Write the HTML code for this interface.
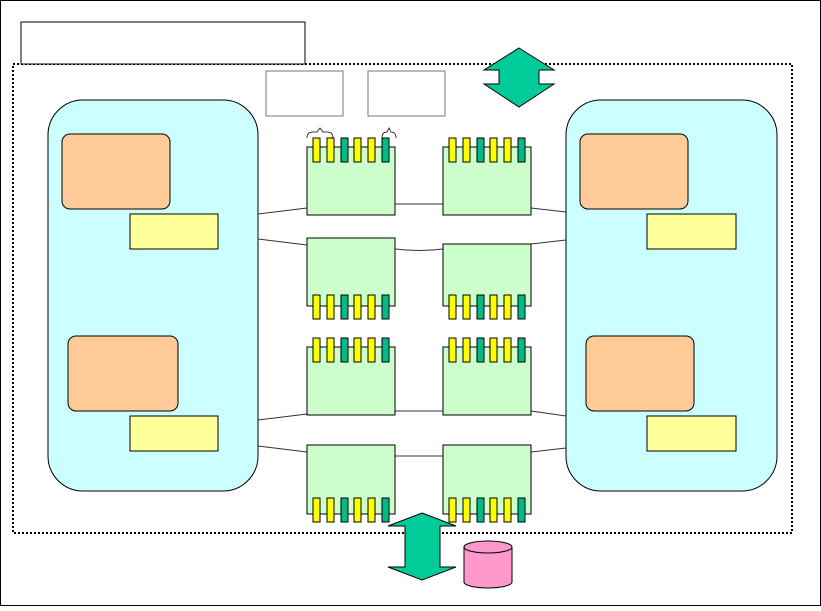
<!DOCTYPE html>
<html><head><meta charset="utf-8"><style>html,body{margin:0;padding:0;background:#fff}</style></head>
<body>
<svg width="821" height="606" viewBox="0 0 821 606" xmlns="http://www.w3.org/2000/svg">
<rect x="0.5" y="0.5" width="820" height="605" fill="#fff" stroke="#000"/>
<rect x="13" y="64" width="779" height="469" fill="none" stroke="#000" stroke-width="2" stroke-dasharray="2,2"/>
<rect x="21" y="22" width="284" height="42" fill="#fff" stroke="#000"/>
<rect x="266" y="71" width="77" height="45" fill="#fff" stroke="#777"/>
<rect x="368" y="71" width="77" height="45" fill="#fff" stroke="#777"/>
<path d="M307 138 q0 -6 6 -6 h4 l3 -4 l3 4 h4 q6 0 6 6" fill="none" stroke="#000" stroke-width="0.8"/>
<path d="M382 138 q0 -6 5 -6 l2 -4 l2 4 q5 0 5 6" fill="none" stroke="#000" stroke-width="0.8"/>
<rect x="48" y="100" width="210" height="391" rx="35" fill="#ccffff" stroke="#000"/>
<rect x="566" y="100" width="211" height="391" rx="35" fill="#ccffff" stroke="#000"/>
<g stroke="#000" fill="#ffcc99">
<rect x="62" y="134" width="108" height="75" rx="8"/>
<rect x="68" y="336" width="110" height="75" rx="8"/>
<rect x="580" y="134" width="108" height="75" rx="8"/>
<rect x="586" y="336" width="108" height="75" rx="8"/>
</g>
<g stroke="#000" fill="#ffff99">
<rect x="130" y="214" width="88" height="35"/>
<rect x="130" y="416" width="88" height="35"/>
<rect x="647" y="214" width="89" height="35"/>
<rect x="647" y="416" width="89" height="35"/>
</g>
<g fill="none" stroke="#333" stroke-width="1">
<path d="M258 214 L307 208 M395 204 L443 204 M531 208 L566 212"/>
<path d="M258 239 L307 245 M395 249 Q420 252 443 249 M531 244 L566 240"/>
<path d="M258 420 L307 414 M395 411 L443 411 M531 411 L566 416"/>
<path d="M258 446 L307 452 M395 456 L443 456 M531 452 L566 448"/>
</g>
<g stroke="#000" fill="#ccffcc">
<rect x="307" y="147" width="88" height="68"/>
<rect x="443" y="147" width="88" height="68"/>
<rect x="307" y="238" width="88" height="68"/>
<rect x="443" y="244" width="88" height="62"/>
<rect x="307" y="347" width="88" height="68"/>
<rect x="443" y="347" width="88" height="68"/>
<rect x="307" y="445" width="88" height="69"/>
<rect x="443" y="445" width="88" height="69"/>
</g>
<defs>
<g id="tabs" stroke="#000" stroke-width="1">
<rect x="6" y="0" width="7" height="24" fill="#ffff00"/>
<rect x="20" y="0" width="7" height="24" fill="#ffff00"/>
<rect x="34" y="0" width="7" height="24" fill="#00bb88"/>
<rect x="47" y="0" width="7" height="24" fill="#ffff00"/>
<rect x="61" y="0" width="7" height="24" fill="#ffff00"/>
<rect x="75" y="0" width="7" height="24" fill="#00bb88"/>
</g>
</defs>
<use href="#tabs" x="307" y="138"/>
<use href="#tabs" x="443" y="138"/>
<use href="#tabs" x="307" y="295"/>
<use href="#tabs" x="443" y="295"/>
<use href="#tabs" x="307" y="338"/>
<use href="#tabs" x="443" y="338"/>
<use href="#tabs" x="307" y="498"/>
<use href="#tabs" x="443" y="498"/>
<polygon points="519,48 554,70 539,70 539,84 554,84 519,107 484,84 499,84 499,70 484,70" fill="#00cc99" stroke="#000"/>
<polygon points="422,513 456,526 440,526 440,567 456,567 422,580 388,567 405,567 405,526 388,526" fill="#00cc99" stroke="#000"/>
<path d="M464 547 V582 A24 6 0 0 0 512 582 V547" fill="#ff99cc" stroke="#000"/>
<ellipse cx="488" cy="547" rx="24" ry="6" fill="#ff99cc" stroke="#000"/>
</svg>
</body></html>
